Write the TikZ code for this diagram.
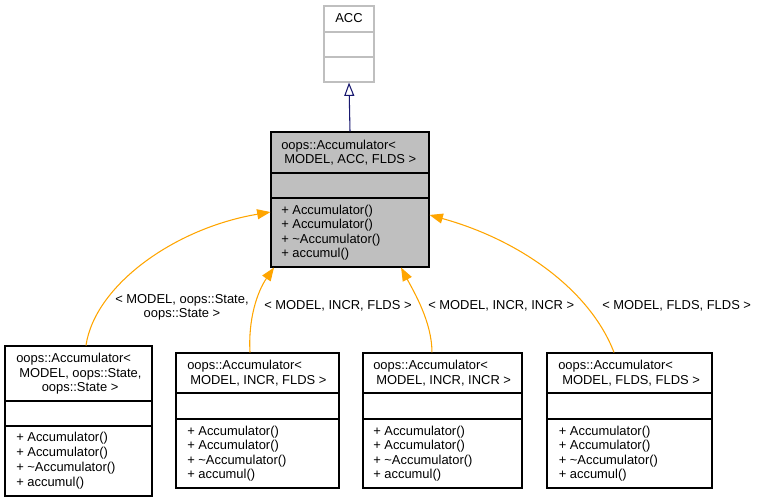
\documentclass[tikz,border=0pt]{standalone}
\usepackage{fontspec}
\setmainfont{Liberation Sans}
\usetikzlibrary{arrows.meta,fit}
\definecolor{accgray}{HTML}{BFBFBF}
\definecolor{mainfill}{HTML}{BFBFBF}
\definecolor{inhblue}{HTML}{191970}
\definecolor{tmplorange}{HTML}{FFA500}
\tikzset{
  boxframe/.style={draw=black, line width=0.8pt, inner sep=0pt, fit={#1}},
  accframe/.style={draw=accgray, line width=0.8pt, inner sep=0pt, fit={#1}},
  sepline/.style={line width=0.8pt},
  txt/.style={anchor=west, inner sep=0pt, text height=7pt, text depth=0pt, font=\fontsize{9.7pt}{12pt}\selectfont},
  ctxt/.style={anchor=center, inner sep=0pt, text height=7pt, text depth=0pt, font=\fontsize{9.7pt}{12pt}\selectfont},
  inherit/.style={draw=inhblue, line width=0.8pt, -{Triangle[open, length=10pt, width=7.5pt, fill=white]}},
  tmpl/.style={draw=tmplorange, line width=0.8pt, -{Triangle[length=10pt, width=7.5pt, fill=tmplorange]}}
}
\begin{document}
\begin{tikzpicture}[x=0.75pt, y=-0.75pt]
\useasboundingbox (0,0) rectangle (757,501);

% ACC box
\node[accframe={(324,6) (374,82)}] (acc) {};
\draw[accgray, sepline] (acc.west |- 0,32) -- (acc.east |- 0,32);
\draw[accgray, sepline] (acc.west |- 0,57) -- (acc.east |- 0,57);
\node[ctxt] (acct) at (349,18) {ACC};

% main box
\node[boxframe={(271,132) (429,267)}, fill=mainfill] (main) {};
\draw[sepline] (main.west |- 0,173) -- (main.east |- 0,173);
\draw[sepline] (main.west |- 0,198) -- (main.east |- 0,198);
\node[txt] (m1) at (281,145) {oops::Accumulator<};
\node[txt] (m2) at (284,159) {MODEL, ACC, FLDS >};
\node[txt] (m3) at (281,209.5) {+ Accumulator()};
\node[txt] (m4) at (281,224) {+ Accumulator()};
\node[txt] (m5) at (281,238.5) {+ \textasciitilde Accumulator()};
\node[txt] (m6) at (281,253) {+ accumul()};

% box 1
\node[boxframe={(5,346) (152,496)}] (b1) {};
\draw[sepline] (b1.west |- 0,401) -- (b1.east |- 0,401);
\draw[sepline] (b1.west |- 0,426) -- (b1.east |- 0,426);
\node[txt] (b1a) at (16,358) {oops::Accumulator<};
\node[txt] (b1b) at (19,372.5) {MODEL, oops::State,};
\node[txt] (b1c) at (41.5,387) {oops::State >};
\node[txt] (b1d) at (16,437) {+ Accumulator()};
\node[txt] (b1e) at (16,452) {+ Accumulator()};
\node[txt] (b1f) at (16,466.5) {+ \textasciitilde Accumulator()};
\node[txt] (b1g) at (16,481.5) {+ accumul()};

% box 2
\node[boxframe={(176,353) (339,488)}] (b2) {};
\draw[sepline] (b2.west |- 0,393) -- (b2.east |- 0,393);
\draw[sepline] (b2.west |- 0,419) -- (b2.east |- 0,419);
\node[txt] (b2a) at (187,365) {oops::Accumulator<};
\node[txt] (b2b) at (190,379.5) {MODEL, INCR, FLDS >};
\node[txt] (b2c) at (187,430.5) {+ Accumulator()};
\node[txt] (b2d) at (187,445) {+ Accumulator()};
\node[txt] (b2e) at (187,459.5) {+ \textasciitilde Accumulator()};
\node[txt] (b2f) at (187,474) {+ accumul()};

% box 3
\node[boxframe={(363,353) (522,488)}] (b3) {};
\draw[sepline] (b3.west |- 0,393) -- (b3.east |- 0,393);
\draw[sepline] (b3.west |- 0,419) -- (b3.east |- 0,419);
\node[txt] (b3a) at (373,365) {oops::Accumulator<};
\node[txt] (b3b) at (376,379.5) {MODEL, INCR, INCR >};
\node[txt] (b3c) at (373,430.5) {+ Accumulator()};
\node[txt] (b3d) at (373,445) {+ Accumulator()};
\node[txt] (b3e) at (373,459.5) {+ \textasciitilde Accumulator()};
\node[txt] (b3f) at (373,474) {+ accumul()};

% box 4
\node[boxframe={(547,353) (712,488)}] (b4) {};
\draw[sepline] (b4.west |- 0,393) -- (b4.east |- 0,393);
\draw[sepline] (b4.west |- 0,419) -- (b4.east |- 0,419);
\node[txt] (b4a) at (558,365) {oops::Accumulator<};
\node[txt] (b4b) at (562,379.5) {MODEL, FLDS, FLDS >};
\node[txt] (b4c) at (558.5,430.5) {+ Accumulator()};
\node[txt] (b4d) at (558.5,445) {+ Accumulator()};
\node[txt] (b4e) at (558.5,459.5) {+ \textasciitilde Accumulator()};
\node[txt] (b4f) at (558.5,474) {+ accumul()};

% inheritance edge
\draw[inherit] (main.north) -- (acc.south);

% template edges
\draw[tmpl] ([xshift=5.6pt]b1.north) .. controls (95,285) and (175,228) .. ([yshift=-9.4pt]main.west);
\draw[tmpl] ([xshift=-5.6pt]b2.north) .. controls (248,320) and (257,292) .. ([xshift=-57pt]main.south);
\draw[tmpl] ([xshift=-7.9pt]b3.north) .. controls (432,322) and (414,292) .. ([xshift=38.3pt]main.south);
\draw[tmpl] ([xshift=-11.6pt]b4.north) .. controls (590,290) and (520,240) .. ([yshift=-11.6pt]main.east);

% labels
\node[txt] (l1a) at (115,299) {< MODEL, oops::State,};
\node[ctxt] (l1b) at (182,313) {oops::State >};
\node[txt] (l2) at (264,305) {< MODEL, INCR, FLDS >};
\node[txt] (l3) at (428,305) {< MODEL, INCR, INCR >};
\node[txt] (l4) at (602,305) {< MODEL, FLDS, FLDS >};
\end{tikzpicture}
\end{document}
